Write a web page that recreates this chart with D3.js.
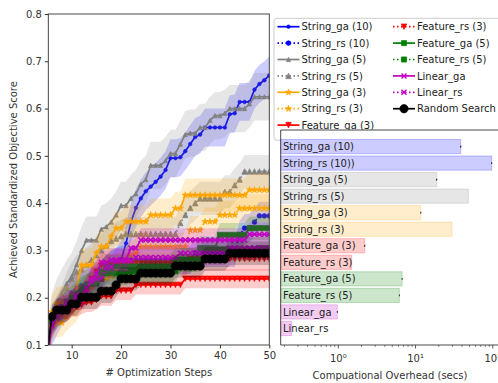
<!DOCTYPE html>
<html>
<head>
<meta charset="utf-8">
<script src="https://cdn.jsdelivr.net/npm/d3@7"></script>
<style>
  body { margin: 0; background: #fff; }
  svg { display: block; }
  text { font-family: "DejaVu Sans", sans-serif; }
</style>
</head>
<body>
<svg id="chart" width="498" height="383"></svg>
<script>
// ---- data: optimisation curves (score after each step) ----
const steps = [5,6,7,8,9,10,11,12,13,14,15,16,17,18,19,20,21,22,23,24,25,26,27,28,29,30,31,32,33,34,35,36,37,38,39,40,41,42,43,44,45,46,47,48,49,50];

const stringGa10 = [0.08,0.14,0.16,0.18,0.19,0.20,0.215,0.225,0.225,0.23,
  0.235,0.24,0.25,0.26,0.265,0.28,0.315,0.36,0.39,0.41,
  0.425,0.435,0.445,0.456,0.47,0.495,0.495,0.497,0.51,0.525,
  0.54,0.545,0.56,0.56,0.56,0.56,0.56,0.588,0.59,0.614,
  0.614,0.614,0.64,0.652,0.66,0.67];
const stringRs10 = [0.08,0.15,0.17,0.18,0.19,0.21,0.22,0.225,0.23,0.235,
  0.24,0.25,0.26,0.27,0.275,0.28,0.28,0.28,0.28,0.28,
  0.28,0.28,0.28,0.28,0.28,0.28,0.28,0.28,0.28,0.28,
  0.295,0.295,0.295,0.295,0.295,0.295,0.295,0.295,0.295,0.333,
  0.347,0.347,0.36,0.373,0.373,0.373];
const stringGa5 = [0.08,0.16,0.19,0.21,0.23,0.245,0.27,0.30,0.322,0.322,
  0.322,0.345,0.35,0.36,0.375,0.395,0.395,0.41,0.42,0.44,
  0.45,0.48,0.48,0.48,0.49,0.505,0.505,0.525,0.545,0.548,
  0.548,0.56,0.56,0.575,0.585,0.585,0.59,0.60,0.60,0.60,
  0.60,0.61,0.625,0.625,0.625,0.625];
const stringRs5 = [0.08,0.15,0.17,0.19,0.22,0.24,0.255,0.26,0.27,0.28,
  0.29,0.30,0.31,0.32,0.325,0.33,0.335,0.335,0.335,0.335,
  0.335,0.335,0.335,0.335,0.335,0.335,0.335,0.358,0.375,0.39,
  0.40,0.41,0.41,0.41,0.41,0.41,0.424,0.424,0.438,0.45,
  0.467,0.467,0.467,0.467,0.467,0.467];
const stringGa3 = [0.08,0.17,0.187,0.19,0.19,0.20,0.22,0.269,0.269,0.269,
  0.295,0.308,0.308,0.33,0.347,0.347,0.361,0.361,0.361,0.361,
  0.361,0.375,0.375,0.375,0.375,0.375,0.389,0.389,0.417,0.417,
  0.417,0.417,0.417,0.417,0.417,0.417,0.417,0.417,0.417,0.417,
  0.417,0.428,0.428,0.428,0.428,0.428];
const stringRs3 = [0.08,0.14,0.147,0.147,0.16,0.17,0.18,0.20,0.215,0.22,
  0.24,0.24,0.24,0.245,0.26,0.27,0.28,0.29,0.295,0.308,
  0.308,0.308,0.308,0.308,0.308,0.308,0.308,0.308,0.308,0.343,
  0.343,0.343,0.361,0.361,0.361,0.375,0.375,0.375,0.375,0.389,
  0.389,0.389,0.389,0.389,0.389,0.389];
const featureGa3 = [0.08,0.15,0.16,0.165,0.17,0.18,0.18,0.185,0.19,0.19,
  0.195,0.203,0.203,0.203,0.215,0.215,0.215,0.215,0.227,0.227,
  0.227,0.227,0.227,0.227,0.227,0.227,0.227,0.227,0.24,0.24,
  0.24,0.24,0.24,0.24,0.24,0.24,0.24,0.24,0.24,0.24,
  0.24,0.24,0.24,0.24,0.24,0.24];
const featureRs3 = [0.08,0.15,0.17,0.18,0.18,0.19,0.20,0.20,0.22,0.24,
  0.255,0.268,0.268,0.268,0.268,0.268,0.272,0.272,0.272,0.272,
  0.272,0.272,0.272,0.272,0.272,0.272,0.272,0.272,0.272,0.282,
  0.282,0.282,0.282,0.282,0.282,0.282,0.282,0.282,0.282,0.282,
  0.282,0.282,0.282,0.282,0.282,0.282];
const featureGa5 = [0.08,0.15,0.17,0.18,0.19,0.20,0.21,0.22,0.225,0.23,
  0.24,0.255,0.266,0.266,0.266,0.266,0.266,0.266,0.266,0.266,
  0.266,0.266,0.266,0.266,0.266,0.266,0.28,0.28,0.28,0.28,
  0.28,0.305,0.305,0.305,0.305,0.333,0.333,0.333,0.333,0.333,
  0.333,0.347,0.347,0.347,0.347,0.347];
const featureRs5 = [0.08,0.15,0.16,0.17,0.18,0.19,0.20,0.215,0.225,0.23,
  0.23,0.24,0.252,0.252,0.252,0.252,0.252,0.256,0.256,0.256,
  0.256,0.256,0.256,0.256,0.256,0.256,0.256,0.28,0.28,0.28,
  0.28,0.28,0.303,0.303,0.303,0.303,0.303,0.303,0.303,0.303,
  0.303,0.303,0.303,0.305,0.305,0.305];
const linearGa = [0.08,0.14,0.16,0.175,0.19,0.19,0.205,0.205,0.22,0.235,
  0.25,0.275,0.275,0.28,0.28,0.28,0.28,0.305,0.305,0.322,
  0.322,0.322,0.322,0.322,0.322,0.322,0.322,0.322,0.322,0.322,
  0.322,0.322,0.322,0.322,0.322,0.322,0.322,0.322,0.322,0.322,
  0.322,0.334,0.334,0.334,0.334,0.334];
const linearRs = [0.08,0.15,0.17,0.18,0.18,0.19,0.20,0.20,0.21,0.24,
  0.24,0.24,0.265,0.265,0.278,0.278,0.278,0.278,0.285,0.285,
  0.285,0.285,0.285,0.285,0.285,0.285,0.285,0.294,0.294,0.294,
  0.294,0.294,0.294,0.294,0.294,0.294,0.294,0.305,0.305,0.305,
  0.305,0.305,0.305,0.305,0.305,0.305];
const randomSearch = [0.08,0.16,0.174,0.174,0.174,0.187,0.187,0.201,0.201,0.201,
  0.201,0.214,0.214,0.214,0.227,0.24,0.24,0.24,0.24,0.252,
  0.252,0.252,0.252,0.252,0.252,0.252,0.267,0.267,0.267,0.267,
  0.267,0.267,0.282,0.282,0.282,0.282,0.282,0.294,0.294,0.294,
  0.294,0.294,0.294,0.294,0.294,0.294];

const seriesNames = ["String_ga (10)","String_rs (10)","String_ga (5)","String_rs (5)",
  "String_ga (3)","String_rs (3)","Feature_ga (3)","Feature_rs (3)",
  "Feature_ga (5)","Feature_rs (5)","Linear_ga","Linear_rs","Random Search"];
const seriesValues = [stringGa10,stringRs10,stringGa5,stringRs5,stringGa3,stringRs3,
  featureGa3,featureRs3,featureGa5,featureRs5,linearGa,linearRs,randomSearch];
// half-width of the spread band drawn around each curve
const seriesSpread = [0.04,0.03,0.05,0.035,0.035,0.03,0.02,0.025,0.025,0.025,0.025,0.025,0.025];

// ---- data: computational overhead per method (seconds) ----
const barLabels = ["String_ga (10)","String_rs (10))","String_ga (5)","String_rs (5)",
  "String_ga (3)","String_rs (3)","Feature_ga (3)","Feature_rs (3)",
  "Feature_ga (5)","Feature_rs (5)","Linear_ga","Linear_rs"];
const barValues = [38.5,97,18.8,48.3,11.7,29.7,2.2,1.49,6.7,6.17,0.97,0.249];
const barErrors = [0.6,1.2,0.3,0,0.15,0,0.03,0,0.08,0.07,0.012,0];

// ---- styles ----
const C = {blue:"#0000ff", gray:"#808080", orange:"#ffa500", red:"#ff0000",
           green:"#008000", magenta:"#bf00bf", black:"#000000"};
const seriesStyle = [
  {color:C.blue,   dash:null, marker:"dot",    r:1.8},
  {color:C.blue,   dash:"1.5,2.5", marker:"dot", r:2.4},
  {color:C.gray,   dash:null, marker:"tri",    r:2.2},
  {color:C.gray,   dash:"1.5,2.5", marker:"tri", r:2.8},
  {color:C.orange, dash:null, marker:"star",   r:13},
  {color:C.orange, dash:"1.5,2.5", marker:"star", r:13},
  {color:C.red,    dash:null, marker:"triDown", r:2.8},
  {color:C.red,    dash:"1.5,2.5", marker:"triDown", r:2.8},
  {color:C.green,  dash:null, marker:"square", r:2.6},
  {color:C.green,  dash:"1.5,2.5", marker:"square", r:2.6},
  {color:C.magenta,dash:null, marker:"x",      r:2.5},
  {color:C.magenta,dash:"1.5,2.5", marker:"x", r:2.5},
  {color:C.black,  dash:null, marker:"dot",    r:4.2}
];
const barColors = [C.blue,C.blue,C.gray,C.gray,C.orange,C.orange,C.red,C.red,C.green,C.green,C.magenta,C.magenta];

const svg = d3.select("#chart");
const axisColor = "#333";
const textColor = "#333";

// ================= left panel: score vs optimisation steps =================
const L = {left:48.3, right:269.3, top:14, bottom:345};
const x = d3.scaleLinear().domain([5.27, 50]).range([L.left, L.right]);
const y = d3.scaleLinear().domain([0.1, 0.8]).range([L.bottom, L.top]);

svg.append("clipPath").attr("id","plotClip")
  .append("rect").attr("x",L.left).attr("y",L.top)
  .attr("width",L.right-L.left).attr("height",L.bottom-L.top);

const plot = svg.append("g").attr("clip-path","url(#plotClip)");

function markerPath(type, r) {
  switch (type) {
    case "dot": return d3.symbol(d3.symbolCircle, Math.PI*r*r)();
    case "tri": return `M0,${-r}L${r},${r}L${-r},${r}Z`;
    case "triDown": return `M0,${r}L${r},${-r}L${-r},${-r}Z`;
    case "square": return `M${-r},${-r}h${2*r}v${2*r}h${-2*r}Z`;
    case "star": return d3.symbol(d3.symbolStar, r)();
    case "x": return `M${-r},${-r}L${r},${r}M${r},${-r}L${-r},${r}`;
  }
}
function drawMarker(sel, st) {
  const p = sel.append("path").attr("d", markerPath(st.marker, st.r));
  if (st.marker === "x") p.attr("fill","none").attr("stroke",st.color).attr("stroke-width",1.4);
  else p.attr("fill",st.color).attr("stroke",st.color).attr("stroke-width",0.6);
  return p;
}

seriesValues.forEach((vals, k) => {
  const st = seriesStyle[k];
  const pts = steps.map((s, i) => ({s, v: vals[i]}));
  const hw = seriesSpread[k];
  plot.append("path")
    .datum(pts)
    .attr("d", d3.area().x(d => x(d.s)).y0(d => y(d.v - hw)).y1(d => y(d.v + hw)))
    .attr("fill", st.color).attr("fill-opacity", 0.2).attr("stroke","none");
  plot.append("path")
    .datum(pts)
    .attr("d", d3.line().x(d => x(d.s)).y(d => y(d.v)))
    .attr("fill","none").attr("stroke",st.color).attr("stroke-width",1.7)
    .attr("stroke-dasharray", st.dash);
  const mg = plot.append("g");
  pts.forEach(d => {
    drawMarker(mg.append("g").attr("transform",`translate(${x(d.s)},${y(d.v)})`), st);
  });
});

// axes of the left panel
const xAxis = d3.axisBottom(x).tickValues([10,20,30,40,50]).tickSize(3.5).tickPadding(3);
const yAxis = d3.axisLeft(y).tickValues([0.1,0.2,0.3,0.4,0.5,0.6,0.7,0.8]).tickFormat(d3.format(".1f")).tickSize(3.5).tickPadding(3);
const gx = svg.append("g").attr("transform",`translate(0,${L.bottom})`).call(xAxis);
const gy = svg.append("g").attr("transform",`translate(${L.left},0)`).call(yAxis);
[gx, gy].forEach(g => {
  g.select(".domain").remove();
  g.selectAll("line").attr("stroke",axisColor);
  g.selectAll("text").attr("fill",textColor).style("font-size","10px");
});
svg.append("rect").attr("x",L.left).attr("y",L.top)
  .attr("width",L.right-L.left).attr("height",L.bottom-L.top)
  .attr("fill","none").attr("stroke",axisColor).attr("stroke-width",0.9);

svg.append("text").attr("x",(L.left+L.right)/2).attr("y",376)
  .attr("text-anchor","middle").attr("fill",textColor).style("font-size","10px")
  .text("# Optimization Steps");
svg.append("text").attr("transform",`translate(17,${(L.top+L.bottom)/2}) rotate(-90)`)
  .attr("text-anchor","middle").attr("fill",textColor).style("font-size","10px")
  .text("Achieved Standardized Objective Score");

// ================= legend =================
const legend = svg.append("g");
legend.append("rect").attr("x",274).attr("y",18.3).attr("width",240).attr("height",122)
  .attr("rx",3).attr("fill","#fff").attr("fill-opacity",0.8)
  .attr("stroke","#cccccc").attr("stroke-width",1);
seriesNames.forEach((name, k) => {
  const st = seriesStyle[k];
  const col = k < 7 ? 0 : 1;
  const row = k < 7 ? k : k - 7;
  const x0 = col === 0 ? 277.5 : 393;
  const yy = 26.7 + row * 16.4;
  const g = legend.append("g");
  g.append("line").attr("x1",x0).attr("x2",x0+22).attr("y1",yy).attr("y2",yy)
    .attr("stroke",st.color).attr("stroke-width",1.7).attr("stroke-dasharray",st.dash);
  drawMarker(g.append("g").attr("transform",`translate(${x0+11},${yy})`), st);
  g.append("text").attr("x",x0+24).attr("y",yy+3.6).attr("fill","#222")
    .style("font-size","10px").text(name);
});

// ================= right panel: computational overhead =================
const R = {left:280.7, right:500.5, top:130, bottom:345};
const xr = d3.scaleLog().domain([0.1795, 125.9]).range([R.left, R.right]);
const yr = d3.scaleLinear().domain([-1, 12]).range([R.top, R.bottom]);
const step = yr(1) - yr(0);
const barH = step * 0.86;

const right = svg.append("g");
right.append("rect").attr("x",R.left).attr("y",R.top)
  .attr("width",R.right-R.left).attr("height",R.bottom-R.top).attr("fill","#fff");

barValues.forEach((v, i) => {
  const cy = yr(i);
  right.append("rect")
    .attr("x", xr(xr.domain()[0])).attr("y", cy - barH/2)
    .attr("width", xr(v) - xr(xr.domain()[0])).attr("height", barH)
    .attr("fill", barColors[i]).attr("fill-opacity",0.2)
    .attr("stroke", barColors[i]).attr("stroke-opacity",0.22).attr("stroke-width",1);
  if (barErrors[i] > 0) {
    right.append("line")
      .attr("x1", xr(v - barErrors[i])).attr("x2", xr(v + barErrors[i]))
      .attr("y1", cy).attr("y2", cy)
      .attr("stroke","#000").attr("stroke-width",1.8);
  }
  right.append("text").attr("x",283).attr("y",cy+3.6).attr("fill","#222")
    .style("font-size","10px").text(barLabels[i]);
});

// log axis with minor ticks
const majors = [1, 10, 100];
const minors = [];
[0.1, 1, 10].forEach(dec => { for (let m = 2; m <= 9; m++) minors.push(dec * m); });
minors.filter(v => v > xr.domain()[0] && v < xr.domain()[1]).forEach(v => {
  right.append("line").attr("x1",xr(v)).attr("x2",xr(v))
    .attr("y1",R.bottom).attr("y2",R.bottom+2).attr("stroke",axisColor).attr("stroke-width",0.6);
});
const supers = ["\u2070","\u00b9","\u00b2"];
majors.forEach((v, i) => {
  right.append("line").attr("x1",xr(v)).attr("x2",xr(v))
    .attr("y1",R.bottom).attr("y2",R.bottom+3.5).attr("stroke",axisColor).attr("stroke-width",0.8);
  right.append("text").attr("x",xr(v)).attr("y",361.5).attr("text-anchor","middle")
    .attr("fill",textColor).style("font-size","10px")
    .text("10" + supers[i]);
});
right.append("path")
  .attr("d",`M${R.left},${R.top}H${R.right}V${R.bottom}H${R.left}Z`)
  .attr("fill","none").attr("stroke",axisColor).attr("stroke-width",0.9);
right.append("text").attr("x",390).attr("y",379).attr("text-anchor","middle")
  .attr("fill",textColor).style("font-size","10px")
  .text("Compuational Overhead (secs)");
</script>
</body>
</html>
